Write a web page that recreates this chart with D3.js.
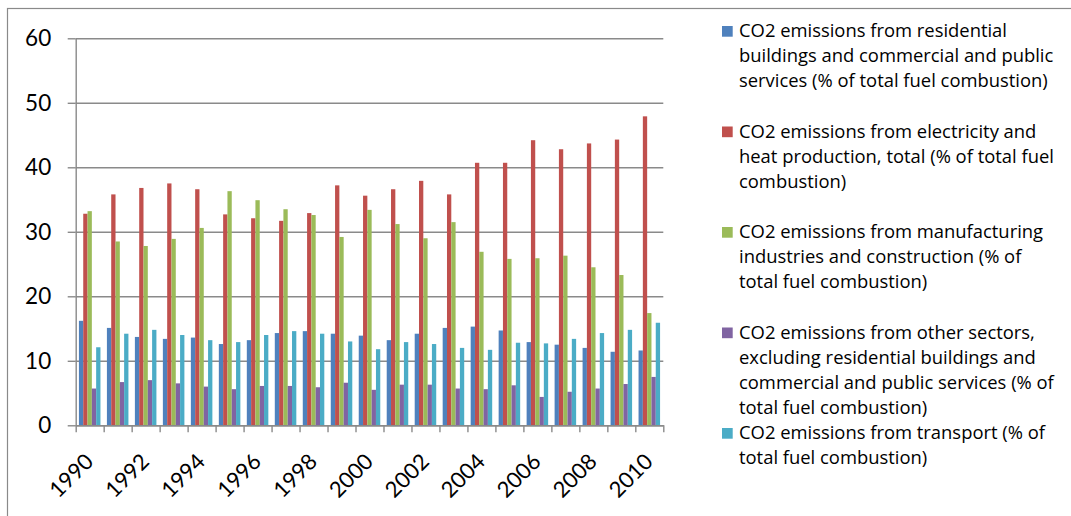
<!DOCTYPE html>
<html><head><meta charset="utf-8">
<script src="https://cdn.jsdelivr.net/npm/d3@7"></script>
<style>html,body{margin:0;padding:0;background:#fff;overflow:hidden}</style>
</head><body>
<svg id="c" width="1071" height="516"></svg>
<script>
const years = ["1990","1991","1992","1993","1994","1995","1996","1997","1998","1999","2000",
               "2001","2002","2003","2004","2005","2006","2007","2008","2009","2010"];
const yearLabels = ["1990","1992","1994","1996","1998","2000","2002","2004","2006","2008","2010"];
const yTicks = [0,10,20,30,40,50,60];

const residential = [16.2,15.1,13.7,13.4,13.6,12.6,13.2,14.3,14.6,14.2,13.9,13.2,14.2,15.1,15.3,14.7,12.9,12.5,12.0,11.4,11.6];
const electricity = [32.8,35.8,36.8,37.5,36.6,32.7,32.1,31.7,32.9,37.2,35.6,36.6,37.9,35.8,40.7,40.7,44.2,42.8,43.7,44.3,47.9];
const manufacturing = [33.2,28.5,27.8,28.9,30.6,36.3,34.9,33.5,32.6,29.2,33.4,31.2,29.0,31.5,26.9,25.8,25.9,26.3,24.5,23.3,17.4];
const otherSectors = [5.7,6.7,7.0,6.5,6.0,5.6,6.1,6.1,5.9,6.6,5.5,6.3,6.3,5.7,5.6,6.2,4.4,5.2,5.7,6.4,7.5];
const transport = [12.1,14.2,14.8,14.0,13.2,12.9,14.0,14.6,14.2,13.0,11.8,12.9,12.6,12.0,11.7,12.8,12.7,13.4,14.3,14.8,15.9];

const seriesValues = [residential, electricity, manufacturing, otherSectors, transport];
const seriesLegend = [
  ["CO2 emissions from residential","buildings and commercial and public","services (% of total fuel combustion)"],
  ["CO2 emissions from electricity and","heat production, total (% of total fuel","combustion)"],
  ["CO2 emissions from manufacturing","industries and construction (% of","total fuel combustion)"],
  ["CO2 emissions from other sectors,","excluding residential buildings and","commercial and public services (% of","total fuel combustion)"],
  ["CO2 emissions from transport (% of","total fuel combustion)"]
];
const seriesColors = ["#4F81BD","#C0504D","#9BBB59","#8064A2","#4BACC6"];

const svg = d3.select("#c");
const L = 75.7, R = 663.3, T = 38.3, B = 425.3;
const FONT = "Lato, 'Open Sans', sans-serif";
const LFONT = "'Open Sans', Lato, sans-serif";
const GRID = "#8a8a8a";

// outer frame
svg.append("rect").attr("x",7.5).attr("y",8.5).attr("width",1200).attr("height",700)
  .attr("fill","none").attr("stroke","#8a8a8a").attr("stroke-width",1.2);

const x = d3.scaleBand().domain(years).range([L,R]).paddingInner(1.5/6.5).paddingOuter(0.75/6.5);
const xs = d3.scaleBand().domain(d3.range(5)).range([0,x.bandwidth()]);
const y = d3.scaleLinear().domain([0,60]).range([B,T]);

// gridlines
const grid = svg.append("g").attr("transform",`translate(${L},0)`)
  .call(d3.axisLeft(y).tickValues(yTicks).tickSize(-(R-L)).tickFormat(""));
grid.select(".domain").remove();
grid.selectAll("line").attr("stroke",GRID).attr("stroke-width",1.4);

// bars
const groups = svg.append("g").selectAll("g").data(seriesValues).join("g")
  .attr("fill",(d,i)=>seriesColors[i]);
groups.each(function(vals, si){
  d3.select(this).selectAll("rect").data(vals).join("rect")
    .attr("x",(v,j)=>x(years[j])+xs(si))
    .attr("width",xs.bandwidth())
    .attr("y",v=>y(v))
    .attr("height",v=>B-y(v));
});

// y axis
const ya = svg.append("g").attr("transform",`translate(${L},0)`)
  .call(d3.axisLeft(y).tickValues(yTicks).tickSizeInner(8).tickSizeOuter(0).tickPadding(16.5));
ya.select(".domain").attr("stroke",GRID).attr("stroke-width",1.4);
ya.selectAll("line").attr("stroke",GRID).attr("stroke-width",1.4);
ya.selectAll("text").attr("font-family",FONT).attr("font-size","22.5px").attr("fill","#000");

// x axis (ticks at category boundaries)
const xb = d3.scaleLinear().domain([0,years.length]).range([L,R]);
const xa = svg.append("g").attr("transform",`translate(0,${B})`)
  .call(d3.axisBottom(xb).tickValues(d3.range(0,years.length+1)).tickSizeInner(7).tickSizeOuter(0).tickFormat(""));
xa.select(".domain").attr("stroke",GRID).attr("stroke-width",1.4);
xa.selectAll("line").attr("stroke",GRID).attr("stroke-width",1.4);

svg.append("g").selectAll("text").data(yearLabels).join("text")
  .attr("transform",d=>`translate(${x(d)+x.bandwidth()/2+5},463) rotate(-45)`)
  .attr("text-anchor","end")
  .attr("font-family",FONT).attr("font-size","22px").attr("fill","#000")
  .text(d=>d);

// legend
const lg = svg.append("g");
seriesLegend.forEach((lines,i)=>{
  const base = 37.3 + i*100.5;
  lg.append("rect").attr("x",722).attr("y",base-11.3).attr("width",10.7).attr("height",10.7).attr("fill",seriesColors[i]);
  lines.forEach((t,k)=>{
    lg.append("text").attr("x",739).attr("y",base+k*25)
      .attr("font-family",LFONT).attr("font-size","18.4px").attr("fill","#000").text(t);
  });
});
</script>
</body></html>
